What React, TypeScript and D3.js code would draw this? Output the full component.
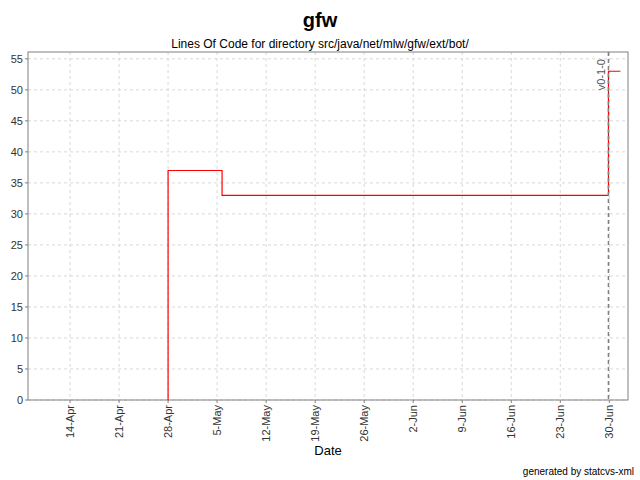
import React from "react";
import * as d3 from "d3";

const stepDates = ["2008-04-28T00:00", "2008-04-28T00:01", "2008-05-05T17:00", "2008-06-29T21:00", "2008-07-01T14:00"];
const stepValues = [0, 37, 33, 53, 53];
const xTickDates = ["2008-04-14", "2008-04-21", "2008-04-28", "2008-05-05", "2008-05-12", "2008-05-19", "2008-05-26", "2008-06-02", "2008-06-09", "2008-06-16", "2008-06-23", "2008-06-30"];
const yTicks = [0, 5, 10, 15, 20, 25, 30, 35, 40, 45, 50, 55];
const markerDate = "2008-06-29T21:00";
const markerLabel = "v0-1-0";
const title = "gfw";
const subtitle = "Lines Of Code for directory src/java/net/mlw/gfw/ext/bot/";
const xLabel = "Date";
const footer = "generated by statcvs-xml";

const W = 640, H = 480;
const L = 28, R = 628, T = 52, B = 400;
const font = "'Liberation Sans', Arial, sans-serif";

export default function App() {
  const parse = (s: string) => new Date(s);
  const x = d3.scaleTime().domain([parse("2008-04-08T00:00"), parse("2008-07-02T16:00")]).range([L, R]);
  const y = d3.scaleLinear().domain([0, 56.1]).range([B, T]);
  const pts: [Date, number][] = stepDates.map((d, i) => [parse(d), stepValues[i]]);
  const line = d3.line<[Date, number]>().x(d => x(d[0])).y(d => y(d[1])).curve(d3.curveStepAfter);
  const fmt = d3.timeFormat("%-d-%b");
  const mx = x(parse(markerDate));
  return (
    <svg width={W} height={H} style={{ position: "absolute", left: 0, top: 0, background: "#fff" }} fontFamily={font}>
      <rect x={0} y={0} width={W} height={H} fill="#fff" />
      <text x={320} y={27} textAnchor="middle" fontSize={20} fontWeight="bold">{title}</text>
      <text x={320} y={48} textAnchor="middle" fontSize={12}>{subtitle}</text>
      {yTicks.map(t => (
        <g key={"y" + t}>
          <line x1={L} x2={R} y1={y(t)} y2={y(t)} stroke="#d8d8d8" strokeDasharray="3,3" />
          <line x1={L - 3} x2={L} y1={y(t)} y2={y(t)} stroke="#808080" />
          <text x={L - 5} y={y(t) + 4} textAnchor="end" fontSize={11} fill="#333">{t}</text>
        </g>
      ))}
      {xTickDates.map(s => {
        const d = parse(s + "T00:00");
        const xx = x(d);
        return (
          <g key={s}>
            <line x1={xx} x2={xx} y1={T} y2={B} stroke="#d8d8d8" strokeDasharray="3,3" />
            <line x1={xx} x2={xx} y1={B} y2={B + 3} stroke="#808080" />
            <text transform={`translate(${xx + 4},${B + 5}) rotate(-90)`} textAnchor="end" fontSize={11} fill="#333">{fmt(d)}</text>
          </g>
        );
      })}
      <rect x={L} y={T} width={R - L} height={B - T} fill="none" stroke="#808080" />
      <path d={line(pts) || ""} fill="none" stroke="#ff0000" strokeWidth={1.2} />
      <line x1={mx} x2={mx} y1={T} y2={B} stroke="#808080" strokeWidth={1.5} strokeDasharray="4,3" />
      <text transform={`translate(${mx - 3},${T + 7}) rotate(-90)`} textAnchor="end" fontSize={11} fill="#555">{markerLabel}</text>
      <text x={(L + R) / 2} y={455} textAnchor="middle" fontSize={13}>{xLabel}</text>
      <text x={634} y={475} textAnchor="end" fontSize={10}>{footer}</text>
    </svg>
  );
}
